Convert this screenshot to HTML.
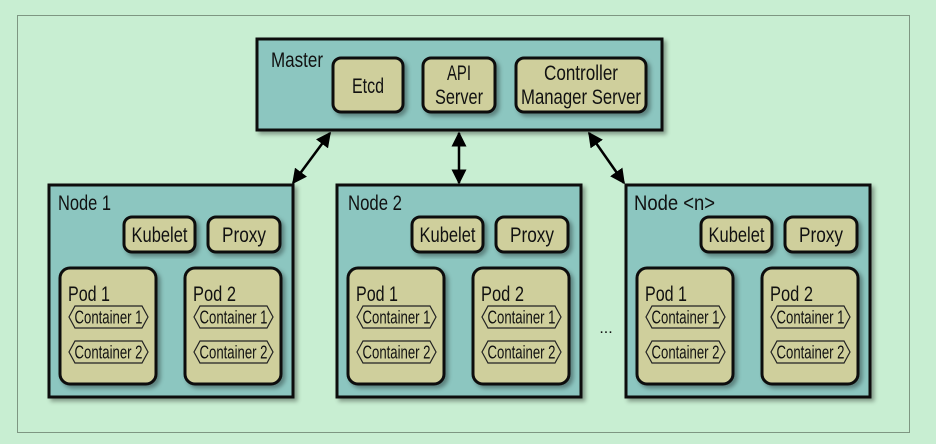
<!DOCTYPE html>
<html><head><meta charset="utf-8"><style>
html,body{margin:0;padding:0;background:#c8eed2;}
svg{display:block}
text{font-family:"Liberation Sans Narrow","Liberation Sans",sans-serif;fill:#111}
</style></head><body>
<svg width="936" height="444" viewBox="0 0 936 444" xmlns="http://www.w3.org/2000/svg">
<defs>
<filter id="sh" x="-10%" y="-10%" width="130%" height="130%"><feDropShadow dx="3" dy="3" stdDeviation="2" flood-color="#000" flood-opacity="0.35"/></filter>
<marker id="ah" viewBox="0 0 10 10" refX="9" refY="5" markerWidth="6" markerHeight="6" orient="auto-start-reverse"><path d="M0,0 L10,5 L0,10 z" fill="#000"/></marker>
<g id="pod">
<rect x="0" y="0" width="96" height="116" rx="10" fill="#cfcf9c" stroke="#111" stroke-width="3" filter="url(#sh)"/>
<polygon points="15,38 82,38 88,49 82,60 15,60 9,49" fill="#cfcf9c" stroke="#222" stroke-width="1.2"/>
<polygon points="15,73 82,73 88,84 82,95 15,95 9,84" fill="#cfcf9c" stroke="#222" stroke-width="1.2"/>
<text x="48.5" y="55.5" font-size="18" text-anchor="middle" textLength="68" lengthAdjust="spacingAndGlyphs">Container 1</text>
<text x="48.5" y="90.5" font-size="18" text-anchor="middle" textLength="68" lengthAdjust="spacingAndGlyphs">Container 2</text>
</g>
<g id="node">
<rect x="0" y="0" width="244" height="212" fill="#8cc6c0" stroke="#111" stroke-width="3" filter="url(#sh)"/>
<rect x="75" y="32" width="71" height="35" rx="8" fill="#cfcf9c" stroke="#111" stroke-width="3" filter="url(#sh)"/>
<text x="110.5" y="57" font-size="21" text-anchor="middle" textLength="56" lengthAdjust="spacingAndGlyphs">Kubelet</text>
<rect x="159" y="32" width="72" height="35" rx="8" fill="#cfcf9c" stroke="#111" stroke-width="3" filter="url(#sh)"/>
<text x="195" y="57" font-size="21" text-anchor="middle" textLength="44" lengthAdjust="spacingAndGlyphs">Proxy</text>
<use href="#pod" x="11" y="83"/>
<use href="#pod" x="136" y="83"/>
<text x="19" y="116" font-size="21" textLength="42" lengthAdjust="spacingAndGlyphs">Pod 1</text>
<text x="144" y="116" font-size="21" textLength="43" lengthAdjust="spacingAndGlyphs">Pod 2</text>
</g>
</defs>
<rect x="17.5" y="15.5" width="892" height="417" fill="none" stroke="#7e9682" stroke-width="1"/>
<rect x="257" y="39" width="405" height="91" fill="#8cc6c0" stroke="#111" stroke-width="3" filter="url(#sh)"/>
<text x="271" y="67" font-size="21" textLength="52" lengthAdjust="spacingAndGlyphs">Master</text>
<rect x="333" y="58" width="70" height="54" rx="8" fill="#cfcf9c" stroke="#111" stroke-width="3" filter="url(#sh)"/>
<text x="368" y="93" font-size="21" text-anchor="middle" textLength="32" lengthAdjust="spacingAndGlyphs">Etcd</text>
<rect x="423" y="58" width="72" height="54" rx="8" fill="#cfcf9c" stroke="#111" stroke-width="3" filter="url(#sh)"/>
<text x="459" y="80" font-size="21" text-anchor="middle" textLength="24" lengthAdjust="spacingAndGlyphs">API</text>
<text x="459" y="104" font-size="21" text-anchor="middle" textLength="48" lengthAdjust="spacingAndGlyphs">Server</text>
<rect x="516" y="58" width="130" height="54" rx="8" fill="#cfcf9c" stroke="#111" stroke-width="3" filter="url(#sh)"/>
<text x="581" y="80" font-size="21" text-anchor="middle" textLength="74" lengthAdjust="spacingAndGlyphs">Controller</text>
<text x="581" y="104" font-size="21" text-anchor="middle" textLength="120" lengthAdjust="spacingAndGlyphs">Manager Server</text>
<use href="#node" x="49" y="185"/>
<use href="#node" x="337" y="185"/>
<use href="#node" x="626" y="185"/>
<text x="58" y="210" font-size="21" textLength="53" lengthAdjust="spacingAndGlyphs">Node 1</text>
<text x="348" y="210" font-size="21" textLength="54" lengthAdjust="spacingAndGlyphs">Node 2</text>
<text x="634" y="210" font-size="21" textLength="81" lengthAdjust="spacingAndGlyphs">Node &lt;n&gt;</text>
<text x="606" y="333" font-size="16" text-anchor="middle">...</text>
<line x1="330" y1="133" x2="293" y2="183" stroke="#000" stroke-width="2.5" marker-start="url(#ah)" marker-end="url(#ah)"/>
<line x1="459" y1="133" x2="459" y2="183" stroke="#000" stroke-width="2.5" marker-start="url(#ah)" marker-end="url(#ah)"/>
<line x1="589" y1="133" x2="624" y2="183" stroke="#000" stroke-width="2.5" marker-start="url(#ah)" marker-end="url(#ah)"/>
</svg>
</body></html>
